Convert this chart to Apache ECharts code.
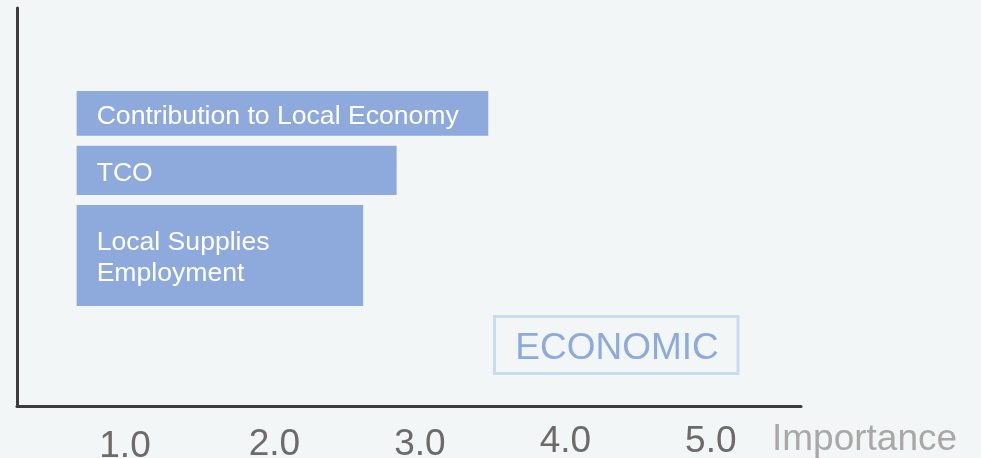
<!DOCTYPE html>
<html>
<head>
<meta charset="utf-8">
<script src="https://cdn.jsdelivr.net/npm/echarts@6/dist/echarts.min.js"></script>
<style>
html,body{margin:0;padding:0;background:#f2f6f7;}
#chart{width:981px;height:458px;}
</style>
</head>
<body>
<div id="chart"></div>
<script>
// ---- data ----
var categories = ['Contribution to Local Economy', 'TCO', 'Local Supplies\nEmployment'];
var importance = [3.47, 2.84, 2.61];
var barBase = 0.64;
var rowLow = [5.43, 4.24, 2.01];
var rowHigh = [6.33, 5.23, 4.04];
var tickValues = [1, 2, 3, 4, 5];
var groupLabel = 'ECONOMIC';
var axisTitle = 'Importance';

var FONT = '"Liberation Sans", Arial, Helvetica, sans-serif';
var chart = echarts.init(document.getElementById('chart'));

var seriesData = categories.map(function (c, i) {
  return [barBase, importance[i], rowLow[i], rowHigh[i], c];
});

var tickPad = {1: [5, 8, 0, 0], 2: [3, 0, 0, 0], 3: [3, 0, 0, 0], 4: [0, 0, 0, 0], 5: [0, 0, 0, 0]};
var rich = {};
tickValues.forEach(function (v) {
  rich['t' + v] = {fontSize: 37, color: '#6e6a6a', fontFamily: FONT, padding: tickPad[v]};
});

chart.setOption({
  backgroundColor: '#f2f6f7',
  animation: false,
  grid: {left: 17, right: 180, top: 8, bottom: 52, containLabel: false, outerBoundsMode: 'none'},
  xAxis: {
    type: 'value', min: 0.23, max: 5.62,
    splitLine: {show: false},
    axisTick: {show: false},
    axisLine: {show: true, lineStyle: {color: '#3c3c3c', width: 3}},
    axisLabel: {
      customValues: tickValues,
      margin: 17,
      formatter: function (v) { return '{t' + v + '|' + v.toFixed(1) + '}'; },
      rich: rich
    },
    name: axisTitle,
    nameLocation: 'end',
    nameGap: -29,
    nameTextStyle: {color: '#aaa7a7', fontSize: 37, fontFamily: FONT, align: 'left', verticalAlign: 'top', padding: [15, 0, 0, 0]}
  },
  yAxis: {
    type: 'value', min: 0, max: 8,
    splitLine: {show: false},
    axisTick: {show: false},
    axisLabel: {show: false},
    axisLine: {show: true, lineStyle: {color: '#3c3c3c', width: 3}}
  },
  series: [{
    type: 'custom',
    data: seriesData,
    encode: {x: [0, 1], y: [2, 3]},
    renderItem: function (params, api) {
      var p0 = api.coord([api.value(0), api.value(3)]);
      var p1 = api.coord([api.value(1), api.value(2)]);
      return {
        type: 'rect',
        shape: {x: p0[0], y: p0[1], width: p1[0] - p0[0], height: p1[1] - p0[1]},
        style: {fill: '#8eaadc'},
        textContent: {
          style: {text: categories[params.dataIndex], fill: '#ffffff', fontSize: 26.6, lineHeight: 31, fontFamily: FONT}
        },
        textConfig: {position: 'insideLeft', distance: 20, offset: [0, 3]}
      };
    }
  }],
  graphic: [{
    type: 'rect',
    shape: {x: 494.5, y: 316.5, width: 243.5, height: 57},
    style: {fill: 'none', stroke: '#c8dbef', lineWidth: 3}
  }, {
    type: 'text',
    x: 617, y: 349,
    style: {text: groupLabel, fill: '#8eaadc', fontSize: 37, fontFamily: FONT, align: 'center', verticalAlign: 'middle'}
  }]
});
</script>
</body>
</html>
